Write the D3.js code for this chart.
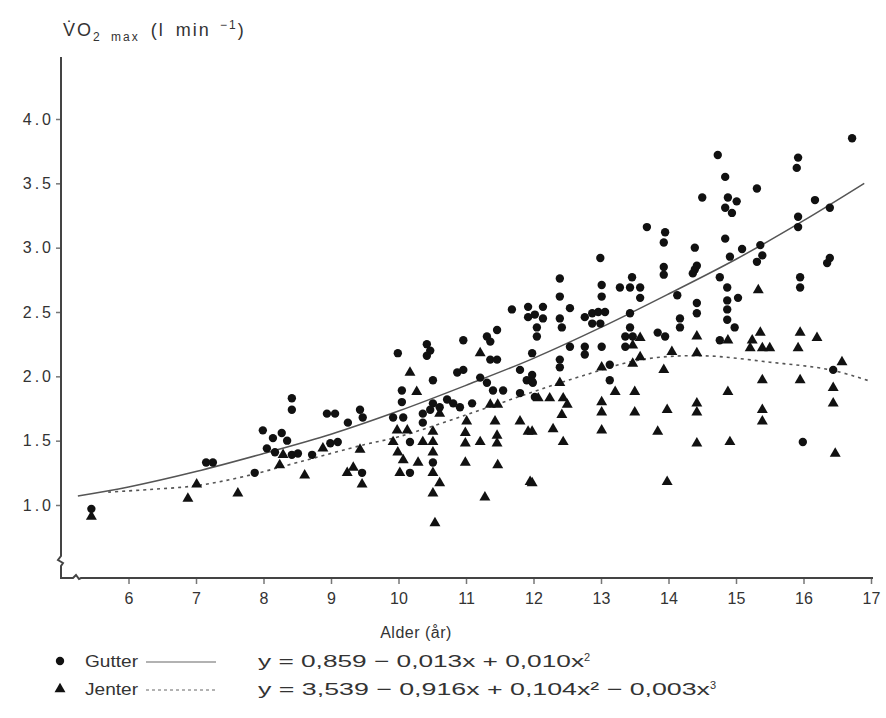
<!DOCTYPE html>
<html>
<head>
<meta charset="utf-8">
<script src="https://cdn.jsdelivr.net/npm/d3@7"></script>
<style>
  body { margin: 0; background: #fff; }
  text { font-family: "Liberation Sans", Arial, sans-serif; fill: #333; }
</style>
</head>
<body>
<div id="chart"></div>
<script>
// Gutter (boys): [alder, VO2max]
var gutter = [
  [5.45, 0.97], [7.15, 1.33], [7.25, 1.33], [7.87, 1.25],
  [8.42, 1.83], [8.42, 1.74], [7.99, 1.58], [8.14, 1.52], [8.27, 1.56], [8.35, 1.50],
  [8.05, 1.44], [8.17, 1.41], [8.42, 1.39], [8.51, 1.40], [8.72, 1.39], [8.94, 1.71],
  [9.06, 1.71], [8.99, 1.48], [9.10, 1.49], [9.25, 1.64], [9.43, 1.74], [9.47, 1.68],
  [9.46, 1.25],
  [11.68, 2.52], [11.92, 2.54], [11.92, 2.46], [11.46, 2.36], [11.31, 2.31], [11.36, 2.27],
  [10.96, 2.28], [10.42, 2.25], [10.47, 2.20], [10.42, 2.16], [9.99, 2.18], [11.36, 2.13],
  [11.46, 2.13], [10.51, 1.97], [10.87, 2.03], [10.96, 2.05], [11.21, 1.99], [11.31, 1.95],
  [11.40, 1.89], [11.55, 1.89], [11.80, 2.05], [11.90, 1.97], [11.99, 1.95], [11.80, 1.87],
  [12.02, 1.84], [10.05, 1.89], [10.05, 1.80], [10.51, 1.79], [10.61, 1.76], [10.72, 1.82],
  [10.81, 1.79], [10.91, 1.76], [10.47, 1.74], [11.09, 1.79], [9.92, 1.68], [10.07, 1.68],
  [10.36, 1.71], [10.36, 1.64], [10.17, 1.49], [10.51, 1.33], [10.17, 1.25],
  [13.68, 3.16], [13.95, 3.12], [13.93, 3.04], [14.39, 3.00], [12.99, 2.92], [13.93, 2.85],
  [13.93, 2.79], [14.39, 2.83], [13.46, 2.77], [12.39, 2.76], [13.01, 2.71], [13.28, 2.69],
  [13.43, 2.69], [13.58, 2.69], [13.01, 2.62], [13.58, 2.61], [14.13, 2.63], [12.39, 2.62],
  [12.54, 2.53], [12.14, 2.54], [12.02, 2.48], [12.14, 2.45], [12.39, 2.45], [12.76, 2.46],
  [12.87, 2.49], [12.96, 2.50], [13.06, 2.50], [12.87, 2.41], [12.99, 2.41], [12.42, 2.38],
  [12.05, 2.38], [12.05, 2.31], [13.43, 2.49], [13.43, 2.38], [13.36, 2.31], [13.47, 2.31],
  [14.17, 2.45], [14.17, 2.38], [13.84, 2.34], [13.95, 2.31], [14.42, 2.57], [14.42, 2.49],
  [12.54, 2.23], [12.76, 2.23], [12.76, 2.17], [13.01, 2.23], [13.36, 2.23], [11.98, 2.18],
  [12.39, 2.13], [12.39, 2.07], [13.13, 2.09], [11.98, 2.01], [11.98, 1.96], [13.13, 1.97],
  [16.72, 3.85], [14.73, 3.72], [15.92, 3.70], [15.90, 3.62], [14.84, 3.55], [15.31, 3.46],
  [14.50, 3.39], [14.88, 3.39], [15.01, 3.36], [14.84, 3.31], [14.94, 3.27], [16.17, 3.37],
  [16.39, 3.31], [15.92, 3.24], [15.92, 3.16], [14.84, 3.07], [15.09, 2.99], [15.36, 3.02],
  [15.39, 2.94], [14.91, 2.93], [15.31, 2.89], [16.39, 2.92], [16.35, 2.88], [14.42, 2.86],
  [14.36, 2.80], [14.76, 2.77], [15.95, 2.77], [15.95, 2.69], [14.87, 2.69], [14.87, 2.59],
  [15.03, 2.61], [14.87, 2.52], [14.87, 2.44], [14.98, 2.38], [14.76, 2.28], [16.44, 2.05],
  [15.99, 1.49]
];

// Jenter (girls): [alder, VO2max]
var jenter = [
  [5.45, 0.91], [7.01, 1.16], [6.88, 1.05], [7.62, 1.09],
  [8.29, 1.39], [8.24, 1.31], [8.61, 1.23], [8.88, 1.44], [9.43, 1.43], [9.24, 1.25],
  [9.46, 1.16], [9.33, 1.29],
  [11.21, 2.18], [10.17, 2.03], [10.27, 1.88], [10.61, 1.71], [11.36, 1.78], [11.47, 1.78],
  [9.98, 1.58], [10.13, 1.58], [10.51, 1.57], [11.01, 1.65], [11.43, 1.65], [11.80, 1.65],
  [11.92, 1.57], [9.92, 1.49], [10.36, 1.49], [10.51, 1.49], [10.99, 1.56], [10.99, 1.48],
  [11.21, 1.49], [11.46, 1.54], [11.46, 1.48], [9.99, 1.41], [10.51, 1.41], [10.07, 1.35],
  [10.29, 1.33], [10.99, 1.33], [11.47, 1.31], [10.02, 1.25], [10.51, 1.25], [10.61, 1.17],
  [10.51, 1.09], [11.95, 1.18], [11.28, 1.06], [10.54, 0.86],
  [13.58, 2.30], [14.42, 2.31], [13.47, 2.24], [14.05, 2.19], [14.42, 2.18], [13.58, 2.15],
  [13.47, 2.10], [13.01, 2.07], [13.93, 2.05], [12.39, 1.95], [13.21, 1.88], [13.50, 1.88],
  [12.07, 1.83], [12.24, 1.83], [12.44, 1.83], [12.50, 1.78], [13.01, 1.80], [12.42, 1.70],
  [13.01, 1.72], [13.50, 1.72], [13.98, 1.74], [14.42, 1.79], [14.42, 1.72], [11.98, 1.57],
  [12.29, 1.59], [13.01, 1.58], [13.84, 1.57], [12.44, 1.49], [14.42, 1.48], [11.98, 1.17],
  [13.98, 1.18],
  [15.33, 2.67], [15.36, 2.34], [15.95, 2.34], [16.20, 2.30], [14.88, 2.28], [15.24, 2.28],
  [15.21, 2.22], [15.39, 2.22], [15.50, 2.22], [15.92, 2.22], [16.57, 2.11], [15.39, 1.97],
  [15.95, 1.97], [14.88, 1.88], [16.44, 1.91], [16.44, 1.79], [15.39, 1.74], [15.39, 1.65],
  [14.91, 1.49], [16.47, 1.40]
];

// regresjonskurver
var gutterFit = [
  [5.25, 1.07], [6, 1.14], [7, 1.26], [8, 1.40], [9, 1.55], [10, 1.73], [11, 1.93],
  [12, 2.14], [13, 2.38], [14, 2.64], [15, 2.91], [16, 3.21], [16.9, 3.50]
];
var jenterFit = [
  [5.7, 1.10], [6.3, 1.12], [7, 1.15], [7.7, 1.22], [8.5, 1.33], [9.5, 1.47], [10, 1.53],
  [11, 1.70], [12, 1.88], [12.7, 2.00], [13.6, 2.13], [14.5, 2.16], [15.5, 2.11],
  [16.4, 2.05], [17, 1.96]
];

var xTicks = [6, 7, 8, 9, 10, 11, 12, 13, 14, 15, 16, 17];
var yTicks = [1.0, 1.5, 2.0, 2.5, 3.0, 3.5, 4.0];

var legendItems = [
  {label: 'Gutter', eq: 'y = 0,859 \u2212 0,013x + 0,010x', sup: '2', sym: 'circle', len: 326},
  {label: 'Jenter', eq: 'y = 3,539 \u2212 0,916x + 0,104x\u00B2 \u2212 0,003x', sup: '3', sym: 'triangle', len: 452}
];

// størrelse
var width = 886;
var height = 718;
var margin = {top: 57, left: 61};
var w = 812;
var h = 521;

var svg = d3.select('#chart').append('svg')
  .attr('width', width).attr('height', height);

var g = svg.append('g')
  .attr('transform', 'translate(' + margin.left + ',' + margin.top + ')');

var x = d3.scaleLinear().domain([5, 17]).range([0, 810]);
var y = d3.scaleLinear().domain([1, 4]).range([448, 62]);

// akser
var xAxis = d3.axisBottom(x).tickValues(xTicks).tickSize(6).tickFormat(d3.format('d'));
var yAxis = d3.axisLeft(y).tickValues(yTicks).tickSize(5).tickFormat(d3.format('.1f'));

var gx = g.append('g').attr('transform', 'translate(0,' + h + ')').call(xAxis);
var gy = g.append('g').call(yAxis);
gx.select('.domain').remove();
gy.select('.domain').remove();
gx.selectAll('.tick line').attr('stroke', '#777').attr('stroke-width', 1.5);
gy.selectAll('.tick line').attr('stroke', '#777').attr('stroke-width', 1.5);
gx.selectAll('.tick text').attr('font-size', 16).attr('dy', '1.05em')
  .style('font-family', 'Liberation Sans, Arial, sans-serif').attr('fill', '#333');
gy.selectAll('.tick text').attr('font-size', 16).attr('x', -7)
  .style('font-family', 'Liberation Sans, Arial, sans-serif')
  .style('letter-spacing', '3px')
  .attr('fill', '#333');

// aksestreker med brudd
g.append('path')
  .attr('d', 'M0,0 V' + (h - 22) + ' l-3,4 l5,3 l-2,3 V' + h + ' H12 l3,-3 l3,4 l2,-1 H' + w)
  .attr('fill', 'none')
  .attr('stroke', '#444')
  .attr('stroke-width', 2);

// regresjonskurver
var line = d3.line()
  .x(function(d) { return x(d[0]); })
  .y(function(d) { return y(d[1]); })
  .curve(d3.curveCatmullRom);

g.append('path')
  .datum(gutterFit)
  .attr('d', line)
  .attr('fill', 'none')
  .attr('stroke', '#555')
  .attr('stroke-width', 1.5);

g.append('path')
  .datum(jenterFit)
  .attr('d', line)
  .attr('fill', 'none')
  .attr('stroke', '#555')
  .attr('stroke-width', 1.6)
  .attr('stroke-dasharray', '3,4');

// punkter
var circle = d3.symbol().type(d3.symbolCircle).size(55);
var triangle = d3.symbol().type(d3.symbolTriangle).size(52);

g.selectAll('.pt-g').data(gutter).enter()
  .append('path')
  .attr('class', 'pt-g')
  .attr('d', circle)
  .attr('transform', function(d) { return 'translate(' + x(d[0]) + ',' + y(d[1]) + ')'; })
  .attr('fill', '#111');

g.selectAll('.pt-j').data(jenter).enter()
  .append('path')
  .attr('class', 'pt-j')
  .attr('d', triangle)
  .attr('transform', function(d) { return 'translate(' + x(d[0]) + ',' + y(d[1]) + ')'; })
  .attr('fill', '#111');

// aksetitler
var yt = svg.append('text')
  .attr('x', 63).attr('y', 36)
  .attr('font-size', 18)
  .style('letter-spacing', '2px')
  .style('word-spacing', '4px');
yt.append('tspan').text('V\u0307O');
yt.append('tspan').attr('font-size', 12).attr('dy', 5).text('2 max');
yt.append('tspan').attr('dy', -5).text(' (l min');
yt.append('tspan').attr('font-size', 12).attr('dy', -7).text(' \u22121');
yt.append('tspan').attr('dy', 7).text(')');

svg.append('text')
  .attr('x', 416).attr('y', 638)
  .attr('text-anchor', 'middle')
  .attr('font-size', 16)
  .style('letter-spacing', '0.5px')
  .text('Alder (\u00E5r)');

// legende
var lg = svg.selectAll('.legend').data(legendItems).enter()
  .append('g')
  .attr('class', 'legend')
  .attr('transform', function(d, i) { return 'translate(0,' + (661 + i * 28) + ')'; });

lg.append('path')
  .attr('d', function(d) { return d.sym === 'circle' ? circle() : triangle(); })
  .attr('transform', 'translate(60,0)')
  .attr('fill', '#111');

lg.append('text')
  .attr('x', 85).attr('y', 6)
  .attr('font-size', 16)
  .attr('textLength', 53)
  .attr('lengthAdjust', 'spacingAndGlyphs')
  .text(function(d) { return d.label; });

lg.append('line')
  .attr('x1', 146).attr('x2', 216)
  .attr('y1', 1).attr('y2', 1)
  .attr('stroke', '#666')
  .attr('stroke-width', 1.2)
  .attr('stroke-dasharray', function(d, i) { return i ? '3,3' : null; });

var eq = lg.append('text')
  .attr('x', 258).attr('y', 6)
  .attr('font-size', 17);
eq.append('tspan')
  .attr('textLength', function(d) { return d.len; })
  .attr('lengthAdjust', 'spacingAndGlyphs')
  .text(function(d) { return d.eq; });
eq.append('tspan').attr('font-size', 11).attr('dy', -6).text(function(d) { return d.sup; });
</script>
</body>
</html>
